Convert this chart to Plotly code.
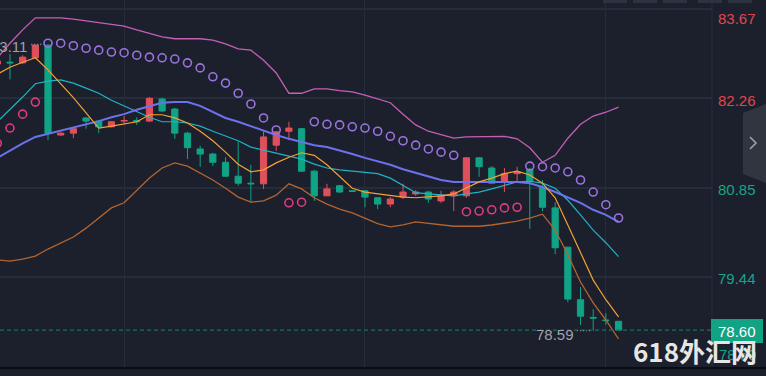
import plotly.graph_objects as go

# ---------------- data ----------------
idx = list(range(50))

open_ = [82.80, 82.83, 82.82, 82.90, 83.10, 81.68, 81.71, 81.95, 81.90, 81.81,
         81.90, 81.91, 81.90, 82.25, 82.09, 81.71, 81.46, 81.38, 81.25, 81.03,
         80.92, 80.91, 81.52, 81.74, 81.78, 81.11, 80.72, 80.88, 80.80, 80.80,
         80.69, 80.59, 80.70, 80.75, 80.78, 80.64, 80.72, 80.72, 81.32, 81.16,
         80.94, 81.07, 81.14, 80.86, 80.53, 79.91, 79.08, 78.80, 78.76, 78.74]
high = [82.86, 82.96, 82.94, 83.10, 83.11, 81.72, 81.78, 81.96, 81.92, 81.90,
        81.98, 81.96, 82.28, 82.27, 82.11, 81.73, 81.51, 81.40, 81.33, 81.57,
        81.21, 81.74, 81.74, 81.89, 81.79, 81.13, 80.91, 80.89, 80.80, 80.81,
        80.70, 80.70, 80.91, 80.81, 80.80, 80.80, 80.81, 81.33, 81.33, 81.19,
        81.16, 81.18, 81.16, 80.97, 80.62, 79.91, 79.28, 78.93, 78.87, 78.74]
low = [82.77, 82.56, 82.80, 82.90, 81.60, 81.67, 81.63, 81.78, 81.71, 81.80,
       81.85, 81.84, 81.89, 82.04, 81.62, 81.30, 81.18, 81.19, 81.02, 80.88,
       80.61, 80.83, 81.43, 81.60, 81.10, 80.64, 80.72, 80.77, 80.78, 80.54,
       80.51, 80.54, 80.67, 80.72, 80.61, 80.61, 80.48, 80.69, 81.02, 80.92,
       80.78, 80.94, 80.20, 80.48, 79.80, 79.04, 78.68, 78.59, 78.68, 78.60]
close = [82.85, 82.82, 82.91, 83.10, 81.71, 81.71, 81.78, 81.90, 81.81, 81.89,
         81.91, 81.89, 82.26, 82.06, 81.71, 81.48, 81.38, 81.25, 81.03, 80.92,
         80.91, 81.65, 81.73, 81.79, 81.11, 80.72, 80.83, 80.78, 80.79, 80.70,
         80.59, 80.67, 80.78, 80.78, 80.67, 80.73, 80.78, 81.32, 81.18, 80.92,
         81.07, 81.10, 80.94, 80.54, 79.90, 79.09, 78.82, 78.79, 78.75, 78.60]

ma5 = [82.64, 82.75, 82.83, 82.90, 82.71, 82.49, 82.27, 82.03, 81.79, 81.82,
       81.85, 81.89, 82.00, 82.00, 81.95, 81.87, 81.74, 81.59, 81.41, 81.22,
       81.10, 81.13, 81.24, 81.33, 81.40, 81.36, 81.21, 81.02, 80.84, 80.78,
       80.75, 80.72, 80.70, 80.69, 80.70, 80.72, 80.75, 80.84, 80.94, 81.00,
       81.07, 81.11, 81.05, 80.92, 80.69, 80.26, 79.82, 79.39, 79.08, 78.81]
ma10 = [81.89, 82.08, 82.28, 82.49, 82.53, 82.55, 82.50, 82.42, 82.34, 82.23,
        82.14, 82.06, 81.96, 81.89, 81.89, 81.87, 81.82, 81.74, 81.66, 81.59,
        81.49, 81.44, 81.40, 81.35, 81.30, 81.22, 81.16, 81.13, 81.11, 81.10,
        81.07, 81.00, 80.88, 80.77, 80.75, 80.73, 80.72, 80.75, 80.78, 80.83,
        80.89, 80.94, 80.95, 80.92, 80.84, 80.65, 80.42, 80.18, 79.98, 79.76]
boll_mid = [81.32, 81.44, 81.55, 81.65, 81.70, 81.74, 81.79, 81.84, 81.90, 81.96,
            82.01, 82.08, 82.14, 82.19, 82.20, 82.20, 82.14, 82.04, 81.95, 81.89,
            81.82, 81.74, 81.68, 81.62, 81.57, 81.52, 81.49, 81.44, 81.38, 81.32,
            81.27, 81.21, 81.14, 81.08, 81.02, 80.97, 80.94, 80.94, 80.94, 80.95,
            80.95, 80.94, 80.92, 80.86, 80.78, 80.70, 80.61, 80.50, 80.42, 80.31]
boll_up = [82.90, 83.13, 83.34, 83.53, 83.53, 83.53, 83.51, 83.48, 83.45, 83.42,
           83.40, 83.34, 83.28, 83.23, 83.20, 83.20, 83.20, 83.18, 83.12, 83.04,
           83.02, 82.86, 82.66, 82.34, 82.34, 82.41, 82.41, 82.38, 82.36, 82.31,
           82.25, 82.19, 82.01, 81.84, 81.74, 81.68, 81.63, 81.65, 81.65, 81.66,
           81.66, 81.62, 81.48, 81.25, 81.36, 81.63, 81.85, 81.98, 82.04, 82.12]
boll_dn = [79.71, 79.69, 79.72, 79.77, 79.88, 79.98, 80.07, 80.21, 80.37, 80.53,
           80.61, 80.80, 81.00, 81.16, 81.24, 81.19, 81.08, 80.97, 80.84, 80.70,
           80.62, 80.64, 80.73, 80.91, 80.83, 80.69, 80.59, 80.51, 80.45, 80.37,
           80.28, 80.23, 80.26, 80.31, 80.29, 80.26, 80.24, 80.24, 80.24, 80.26,
           80.29, 80.32, 80.37, 80.43, 80.18, 79.79, 79.36, 79.03, 78.76, 78.46]
sar = [81.55, 81.79, 82.01, 82.20, 83.13, 83.13, 83.09, 83.05, 83.02, 82.99,
       82.98, 82.94, 82.91, 82.90, 82.88, 82.82, 82.74, 82.60, 82.50, 82.34,
       82.17, 81.95, 81.76, 80.61, 80.62, 81.89, 81.85, 81.84, 81.81, 81.79,
       81.74, 81.66, 81.59, 81.52, 81.46, 81.41, 81.36, 80.47, 80.48, 80.50,
       80.53, 80.54, 81.19, 81.18, 81.16, 81.10, 80.97, 80.78, 80.58, 80.37]

axis_ticks = [83.67, 82.26, 80.85, 79.44]
axis_tick_colors = ["#e2454f", "#e2454f", "#17a589", "#17a589"]
last_price = 78.60
high_mark = 83.11
low_mark = 78.59

# ---------------- styling ----------------
BG = "#1b202c"
GRID = "#262d3a"
UP = "#e0505b"
DOWN = "#11a386"
W, H = 766, 376
ML, MR, MT, MB = 0, 54, 0, 8
PW, PH = W - ML - MR, H - MT - MB


def px(xp):
    return (xp - ML) / PW


def py(yp):
    return 1 - (yp - MT) / PH


fig = go.Figure()

fig.add_trace(go.Candlestick(
    x=idx, open=open_, high=high, low=low, close=close,
    increasing=dict(line=dict(color=UP, width=1), fillcolor=UP),
    decreasing=dict(line=dict(color=DOWN, width=1), fillcolor=DOWN),
    whiskerwidth=0, hoverinfo="skip"))

for series, color, width in [(boll_up, "#c75fb6", 1.3), (boll_dn, "#b4652f", 1.3),
                             (ma10, "#1fb3c6", 1.2), (boll_mid, "#6c72ee", 2.0),
                             (ma5, "#f4a035", 1.2)]:
    fig.add_trace(go.Scatter(x=idx, y=series, mode="lines",
                             line=dict(color=color, width=width), hoverinfo="skip"))

above_x = [i for i in idx if sar[i] > close[i]]
below_x = [i for i in idx if sar[i] <= close[i]]
fig.add_trace(go.Scatter(x=above_x, y=[sar[i] for i in above_x], mode="markers",
                         marker=dict(symbol="circle-open", size=8, color="#9b72e0",
                                     line=dict(width=1.6, color="#9b72e0")),
                         hoverinfo="skip"))
fig.add_trace(go.Scatter(x=below_x, y=[sar[i] for i in below_x], mode="markers",
                         marker=dict(symbol="circle-open", size=8, color="#df3a82",
                                     line=dict(width=1.6, color="#df3a82")),
                         hoverinfo="skip"))

shapes = []
# current price dashed line
shapes.append(dict(type="line", xref="paper", yref="y", x0=0, x1=1,
                   y0=last_price, y1=last_price,
                   line=dict(color="#1e6d62", width=1.2, dash="4px,3px")))
# high / low marker dots
shapes.append(dict(type="line", xref="x", yref="y", x0=2.68, x1=3.5,
                   y0=high_mark, y1=high_mark,
                   line=dict(color="#9ea3ad", width=1.2, dash="1px,2px")))
shapes.append(dict(type="line", xref="x", yref="y", x0=45.72, x1=46.8,
                   y0=low_mark, y1=low_mark,
                   line=dict(color="#9ea3ad", width=1.2, dash="1px,2px")))
# axis border & bottom line
shapes.append(dict(type="line", xref="paper", yref="paper", x0=1, x1=1, y0=0, y1=1,
                   line=dict(color=GRID, width=1)))
shapes.append(dict(type="line", xref="paper", yref="paper", x0=0, x1=px(W), y0=py(368), y1=py(368),
                   line=dict(color="#05070a", width=1.5)))
# current price box
shapes.append(dict(type="rect", xref="paper", yref="paper", x0=px(711), x1=px(763),
                   y0=py(343), y1=py(319), fillcolor="#12a284", line=dict(width=0)))
# side tab
shapes.append(dict(type="path", xref="paper", yref="paper",
                   path=f"M {px(766)},{py(104)} L {px(743)},{py(113)} L {px(743)},{py(174)} "
                        f"L {px(766)},{py(183)} Z",
                   fillcolor="#30353f", line=dict(width=0)))
shapes.append(dict(type="path", xref="paper", yref="paper",
                   path=f"M {px(750)},{py(137)} L {px(756)},{py(143)} L {px(750)},{py(149)}",
                   line=dict(color="#9a9fa8", width=1.6)))
# top toolbar buttons (edges)
for a, b in [(603, 627), (633, 657), (663, 687), (698, 722), (728, 752)]:
    shapes.append(dict(type="rect", xref="paper", yref="paper", x0=px(a), x1=px(b),
                       y0=py(3), y1=py(-5), fillcolor="#2d3240", line=dict(width=0)))

annotations = []
font_fam = "Liberation Sans, Arial, sans-serif"
for v, c in zip(axis_ticks, axis_tick_colors):
    annotations.append(dict(xref="paper", yref="y", x=px(716), y=v, xanchor="left",
                            yanchor="middle", text=f"{v:.2f}", showarrow=False,
                            yshift=-10 if v == axis_ticks[0] else -2,
                            font=dict(family=font_fam, size=15, color=c)))
annotations.append(dict(xref="paper", yref="y", x=px(717), y=low_mark, xanchor="left",
                        yanchor="middle", text=f"{low_mark:.2f}", showarrow=False,
                        yshift=-24, font=dict(family=font_fam, size=15, color="#17a589")))
annotations.append(dict(xref="paper", yref="y", x=px(737), y=last_price, xanchor="center",
                        yanchor="middle", text=f"{last_price:.2f}", showarrow=False,
                        yshift=-1, font=dict(family=font_fam, size=15, color="#ffffff")))
annotations.append(dict(xref="x", yref="y", x=2.5, y=high_mark, xanchor="right",
                        yanchor="middle", text=f"{high_mark:.2f}", showarrow=False,
                        yshift=-2, font=dict(family=font_fam, size=15, color="#9ea3ad")))
annotations.append(dict(xref="x", yref="y", x=45.64, y=low_mark, xanchor="right",
                        yanchor="middle", text=f"{low_mark:.2f}", showarrow=False,
                        yshift=-4, font=dict(family=font_fam, size=15, color="#9ea3ad")))
annotations.append(dict(xref="paper", yref="paper", x=px(695), y=py(350), xanchor="center",
                        yanchor="middle", text="<b>618外汇网</b>", showarrow=False,
                        font=dict(family="Noto Sans CJK SC, sans-serif", size=26, color="#e6e6e6")))

fig.update_layout(
    width=W, height=H, margin=dict(l=ML, r=MR, t=MT, b=MB),
    paper_bgcolor=BG, plot_bgcolor=BG, showlegend=False,
    shapes=shapes, annotations=annotations, boxgap=0.3,
    xaxis=dict(range=[0.213, 56.37], showticklabels=False, tickvals=[10, 29, 48],
               showgrid=True, gridcolor=GRID, gridwidth=1, zeroline=False,
               rangeslider=dict(visible=False), showline=False, ticks=""),
    yaxis=dict(range=[78.002, 83.812], side="right", showticklabels=False,
               tickvals=axis_ticks, showgrid=True, gridcolor=GRID, gridwidth=1.5,
               zeroline=False, showline=False, ticks=""),
)

fig.write_html("out.html", config={"displayModeBar": False},
               post_script="document.body.style.margin='0';document.body.style.background='#1b202c';")
